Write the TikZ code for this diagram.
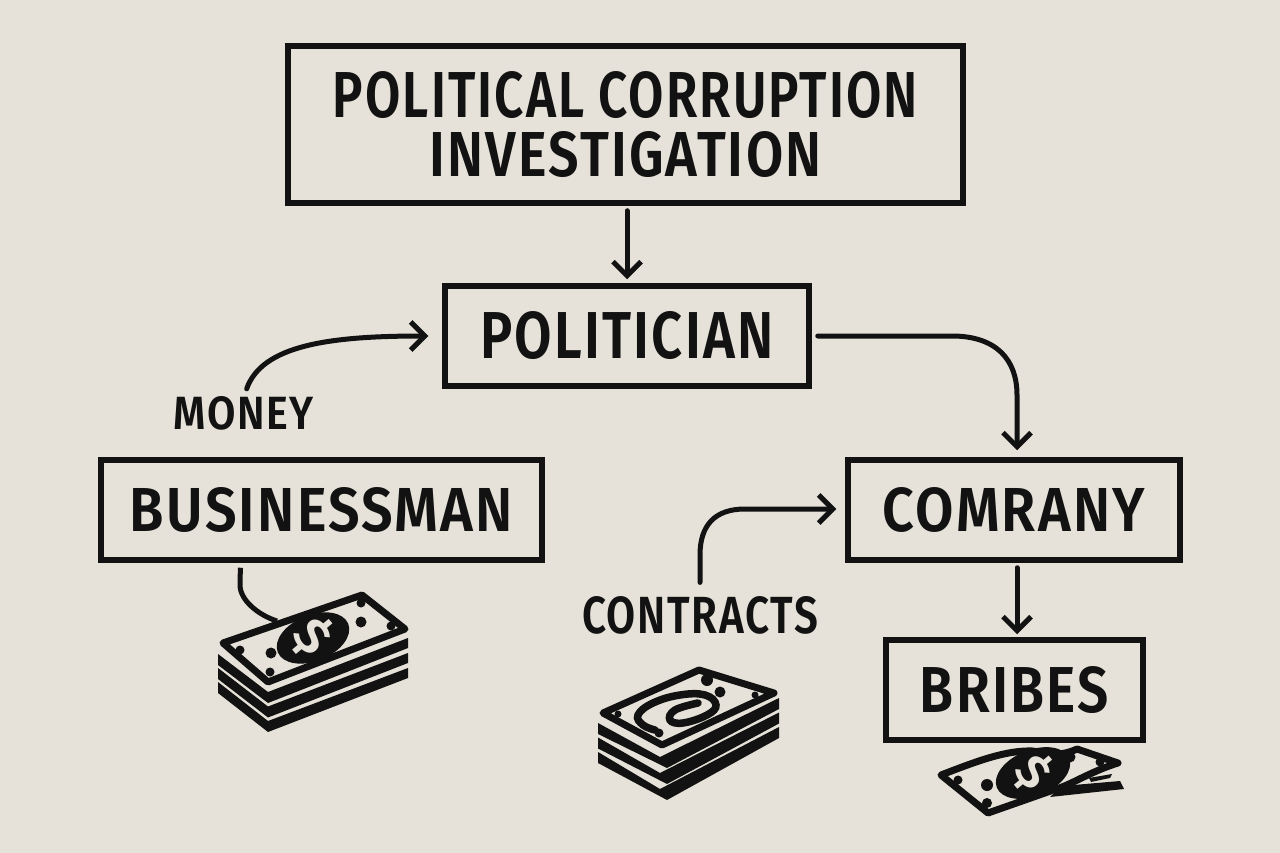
\documentclass[tikz,border=0pt]{standalone}
\usepackage{fontspec}
\usepackage{graphicx}
\setmainfont{Fira Sans}[BoldFont={Fira Sans SemiBold},LetterSpace=4]
\usetikzlibrary{arrows.meta,calc}
\definecolor{paper}{HTML}{E6E2D9}
\definecolor{ink}{HTML}{121212}
\newcommand{\fitt}[3]{\resizebox{#1pt}{#2pt}{\bfseries #3}}
\tikzset{
  boxnode/.style={draw=ink,line width=5.5pt,fill=paper,inner sep=0pt,text=ink,align=center},
  labelnode/.style={inner sep=0pt,text=ink},
  link/.style={draw=ink,line width=5pt,line cap=round},
  arrowlink/.style={link,-{Straight Barb[length=14pt,width=28pt,line width=5pt]}},
  bill/.style={draw=ink,fill=paper,line width=7pt,line join=round},
  band/.style={fill=ink,draw=none},
  spot/.style={fill=ink,draw=none},
}
\begin{document}
\begin{tikzpicture}[x=1pt,y=-1pt]
\useasboundingbox (0,0) rectangle (1280,853);
\fill[paper] (0,0) rectangle (1280,853);

% boxes
\node[boxnode,minimum width=675pt,minimum height=157pt] (title) at (625.5,124.5)
  {\fitt{585}{46}{POLITICAL CORRUPTION}\\[12pt]\fitt{392}{45}{INVESTIGATION}};
\node[boxnode,minimum width=364pt,minimum height=100pt] (pol) at (627,336) {\fitt{293}{47}{POLITICIAN}};
\node[boxnode,minimum width=441pt,minimum height=100pt] (biz) at (321.5,510) {\fitt{383}{44}{BUSINESSMAN}};
\node[boxnode,minimum width=332pt,minimum height=100pt] (com) at (1014,510) {\fitt{262}{44}{COMRANY}};
\node[boxnode,minimum width=257pt,minimum height=100pt] (bri) at (1014.5,690) {\fitt{189}{46}{BRIBES}};
% labels
\node[labelnode] (money) at (244,413.5) {\fitt{140}{33}{MONEY}};
\node[labelnode] (contracts) at (700,615.5) {\fitt{236}{37}{CONTRACTS}};
\coordinate (stackA) at (277,621);

% connectors
\draw[arrowlink,shorten <=5pt,shorten >=4pt] (title.south -| pol.north) -- (pol.north);
\draw[arrowlink,shorten <=8pt,shorten >=14pt] (money.north) .. controls (262,345) and (330,336) .. (pol.west);
\draw[arrowlink,shorten <=6pt,shorten >=7pt] (pol.east) -- ($(pol.east)+(140,0)$) .. controls ($(pol.east)+(185,0)$) and (1017,360) .. (1017,395) -- ($(com.north)+(3,0)$);
\draw[arrowlink,shorten <=14pt,shorten >=9pt] (contracts.north) -- (700,555) .. controls (700,525) and (715,509) .. (745,509) -- (com.west |- 0,509);
\draw[arrowlink,shorten <=5pt,shorten >=3pt] ($(com.south)+(3,0)$) -- ($(bri.north)+(2.5,0)$);
\draw[link,line cap=butt,shorten <=5pt] ($(biz.south)+(-81,0)$) -- (240,585) .. controls (240,600) and (258,615) .. (stackA);

% stack A
\foreach \k in {0,1,2}{
  \fill[band] (218,{654+14*\k}) -- (268,{692+14.5*\k}) -- (408,{638+15*\k}) -- (408,{648+15*\k}) -- (268,{703+14.5*\k}) -- (218,{665+14*\k}) -- cycle;
}
\draw[bill] (223,643) -- (362,595) -- (405,629) -- (268,682) -- cycle;
\fill[spot,rotate around={22:(313,638)}] (313,638) ellipse (38 and 23);
\node[labelnode,text=paper,rotate=-50] (dollarA) at (313,637) {\fitt{30}{40}{\$}};
\fill[spot] (271,653) circle (5.5) (361,622) circle (5.5);
\fill[spot] (240,650) circle (4.5) (270,672) circle (4.5) (361,603) circle (4.5) (391,626) circle (4.5);

% stack B
\foreach \k in {0,1,2}{
  \fill[band] (598,{723+14.5*\k}) -- (660,{757+16*\k}) -- (779,{698+14.5*\k}) -- (779,{709+14.5*\k}) -- (667,{768+16*\k}) -- (598,{734+14.5*\k}) -- cycle;
}
\draw[bill] (603,713) -- (699,670) -- (774,693) -- (662,745) -- cycle;
\draw[ink,line width=7.5pt,line cap=round] plot[smooth,tension=0.7] coordinates {(655,730) (643,725) (638,715) (653,703) (680,695) (705,695) (716,705) (707,715) (683,723) (670,720) (675,710) (698,703)};
\fill[spot] (720,692) circle (5.5) (707,680) circle (6) (618,714) circle (3.5) (755,695) circle (3.5) (659,733) circle (4.5);

% bill C
\draw[bill] (941,775) .. controls (975,762) and (1005,750) .. (1033,751) .. controls (1050,755) and (1062,756) .. (1077,749) -- (1118,763) .. controls (1095,770) and (1075,782) .. (1062,787) -- (988,813) -- cycle;
\fill[spot,rotate around={22:(1033,773)}] (1033,773) ellipse (39 and 23);
\node[labelnode,text=paper,rotate=-50] (dollarC) at (1033,772) {\fitt{28}{38}{\$}};
\fill[spot] (1062,786) -- (1120,781) -- (1124,789) -- (1050,797) -- cycle;
\fill[spot] (1089,778) -- (1112,774) -- (1110,778) -- (1091,782) -- cycle;
\fill[spot] (987,785) circle (6) (1070,757) circle (5.5) (958,780) circle (4.5) (987,803) circle (5) (1100,762) circle (4.5);
\end{tikzpicture}
\end{document}
